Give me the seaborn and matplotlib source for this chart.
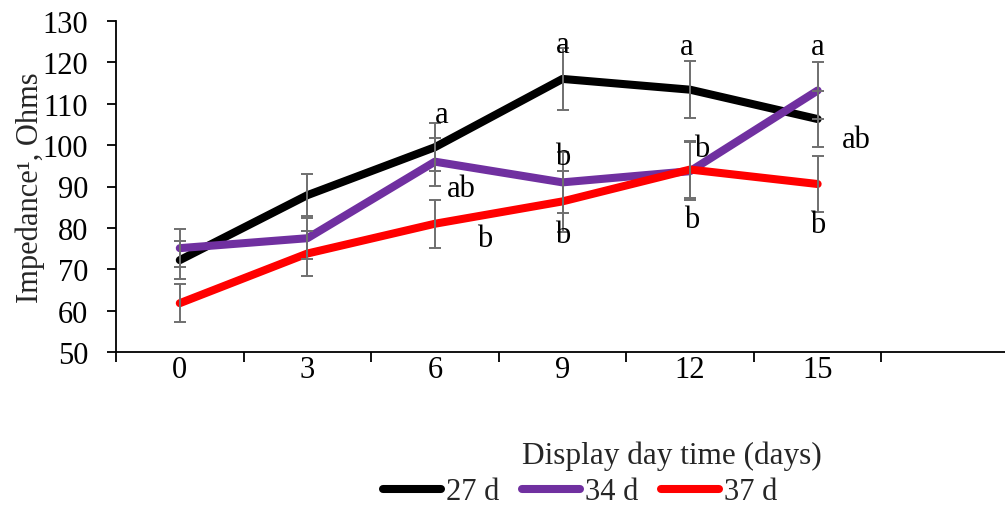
import numpy as np
import pandas as pd
import matplotlib
matplotlib.use("Agg")
import matplotlib.pyplot as plt
import seaborn as sns
from matplotlib.ticker import FixedLocator, NullFormatter, FixedFormatter

# Display day (category labels)
days = ["0", "3", "6", "9", "12", "15"]

# Mean impedance (Ohms) per display day for each ageing group
imp_27 = [72.2, 87.9, 99.5, 116.0, 113.4, 106.3]
imp_34 = [75.1, 77.5, 96.0, 91.0, 93.7, 113.2]
imp_37 = [61.8, 73.8, 81.0, 86.4, 94.1, 90.6]

# Standard errors
se_27 = [4.6, 5.1, 5.8, 7.4, 6.9, 6.8]
se_34 = [4.6, 5.0, 5.8, 7.4, 7.0, 6.8]
se_37 = [4.6, 5.4, 5.8, 7.4, 7.0, 6.8]

groups = ["27 d", "34 d", "37 d"]
colors = {"27 d": "#000000", "34 d": "#7030A0", "37 d": "#FF0000"}

# Significance letters: (day index, letter, x offset, baseline value)
sig_letters = [
    (2, "a", 0.05, 105.6), (2, "ab", 0.21, 87.8), (2, "b", 0.39, 75.7),
    (3, "a", 0.0, 122.4), (3, "b", 0.0, 95.4), (3, "b", 0.0, 76.5),
    (4, "a", -0.03, 122.0), (4, "b", 0.09, 97.4), (4, "b", 0.01, 80.1),
    (5, "a", 0.0, 122.0), (5, "ab", 0.30, 99.5), (5, "b", 0.0, 78.9),
]

FS = 22

sns.set_theme(style="white")
plt.rcParams["font.family"] = ["Liberation Serif", "DejaVu Serif"]

pos = np.arange(len(days))
df = pd.concat([
    pd.DataFrame({"pos": pos, "imp": vals, "group": g})
    for g, vals in zip(groups, [imp_27, imp_34, imp_37])
], ignore_index=True)

fig = plt.figure(figsize=(10.05, 5.1), dpi=100)
ax = fig.add_axes([116 / 1005, 1 - 353 / 510, (1009 - 116) / 1005, (353 - 22) / 510])

sns.lineplot(data=df, x="pos", y="imp", hue="group", palette=colors,
             linewidth=5.8, ax=ax, legend=False, sort=False,
             solid_capstyle="round", solid_joinstyle="round")

for vals, errs in zip([imp_27, imp_34, imp_37], [se_27, se_34, se_37]):
    ax.errorbar(pos, vals, yerr=errs, fmt="none", ecolor="#6f6f6f",
                elinewidth=1.4, capsize=4.4, capthick=1.4, zorder=5)

for idx, txt, dx, yb in sig_letters:
    ax.text(idx + dx, yb, txt, ha="center", va="baseline", fontsize=FS,
            color="black", zorder=6)

ax.set_xlim(-0.5, 6.5)
ax.set_ylim(50, 130)
ax.set_yticks(np.arange(50, 131, 10))
ax.tick_params(axis="y", direction="out", length=6.5, width=1.3,
               labelsize=FS, pad=13.5, left=True, colors="black")

# Category boundaries get tick marks; labels sit at category centres
ax.xaxis.set_major_locator(FixedLocator(np.arange(-0.5, 7.0, 1.0)))
ax.xaxis.set_major_formatter(NullFormatter())
ax.xaxis.set_minor_locator(FixedLocator(pos))
ax.xaxis.set_minor_formatter(FixedFormatter(days))
ax.tick_params(axis="x", which="major", direction="out", length=7,
               width=1.3, bottom=True, colors="black")
ax.tick_params(axis="x", which="minor", length=0, labelsize=FS, pad=2.5,
               colors="black")

for side in ["top", "right"]:
    ax.spines[side].set_visible(False)
for side in ["left", "bottom"]:
    ax.spines[side].set_color("black")
    ax.spines[side].set_linewidth(1.3)

ax.set_xlabel("")
ax.set_ylabel("Impedance\u00b9, Ohms", fontsize=FS)
ax.yaxis.set_label_coords(-0.080, 0.5)

fig.text(672 / 1005, 1 - 456 / 510, "Display day time (days)",
         ha="center", va="center", fontsize=22.5)

handles = [plt.Line2D([0], [0], color=colors[g], linewidth=5.8,
                      solid_capstyle="round") for g in groups]
fig.legend(handles, groups, loc="center", bbox_to_anchor=(580 / 1005, 1 - 493 / 510),
           ncol=3, frameon=False, fontsize=FS, handlelength=1.9,
           handletextpad=0.15, columnspacing=0.75, borderpad=0, borderaxespad=0)

fig.savefig("out.png", dpi=100)
